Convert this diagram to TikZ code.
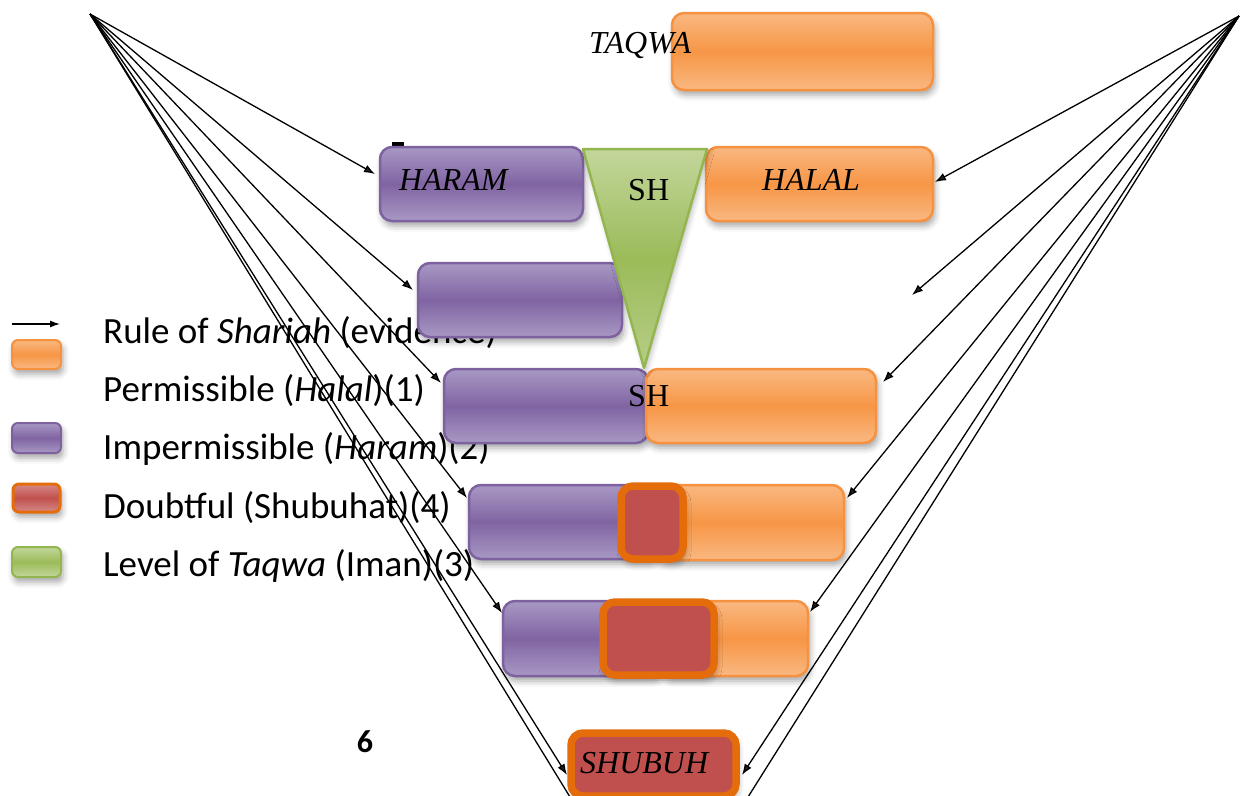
\documentclass[tikz,border=0pt]{standalone}
\usepackage{fontspec}
\setmainfont{Liberation Serif}
\newfontfamily\legendfont{Carlito}
\usetikzlibrary{arrows.meta,shadows.blur}

\definecolor{orMid}{HTML}{F79646}
\definecolor{orLight}{HTML}{F9B881}
\definecolor{orEdge}{HTML}{F6923F}
\definecolor{puMid}{HTML}{8064A2}
\definecolor{puLight}{HTML}{A898C4}
\definecolor{puEdge}{HTML}{7E62A0}
\definecolor{grMid}{HTML}{9BBB59}
\definecolor{grLight}{HTML}{C3D69B}
\definecolor{grEdge}{HTML}{94B650}
\definecolor{rdFill}{HTML}{C0504D}
\definecolor{rdLight}{HTML}{D58A88}
\definecolor{rdEdge}{HTML}{E46C0A}

\tikzset{
  panel/.style={rounded corners=12pt, line width=2.5pt, inner sep=0pt, outer sep=0pt,
    anchor=north west,
    blur shadow={shadow xshift=2pt, shadow yshift=-5pt, shadow blur radius=6pt, shadow opacity=35}},
  obox/.style={panel, draw=orEdge, top color=orLight, bottom color=orLight, middle color=orMid},
  pbox/.style={panel, draw=puEdge, top color=puLight, bottom color=puLight, middle color=puMid},
  rbox/.style={panel, draw=rdEdge, line width=7.5pt, fill=rdFill},
  swatch/.style={panel, rounded corners=6pt, line width=2pt},
  label/.style={inner sep=0pt, anchor=base west, font=\fontsize{32}{36}\selectfont\itshape},
  shtext/.style={inner sep=0pt, anchor=base west, font=\fontsize{32}{36}\selectfont},
  legtext/.style={inner sep=0pt, anchor=base west, font=\legendfont\fontsize{37}{44}\selectfont},
  rule/.style={line width=1.3pt, -{Latex[length=11pt,width=8pt]}},
  plainrule/.style={line width=1.3pt},
}

\begin{document}
\begin{tikzpicture}[x=1pt,y=-1pt]
\useasboundingbox (0,0) rectangle (1241,795);

% ---- legend ----
\coordinate (legs) at (12,324);
\coordinate (lege) at (60,324);
\draw[rule, -{Latex[length=10pt,width=7pt]}] (legs) -- (lege);
\node[swatch, draw=orEdge, top color=orLight, bottom color=orLight, middle color=orMid,
      minimum width=49pt, minimum height=29pt] (lgor) at (12,340) {};
\node[swatch, draw=puEdge, top color=puLight, bottom color=puLight, middle color=puMid,
      minimum width=49pt, minimum height=30pt] (lgpu) at (12,423) {};
\node[swatch, draw=rdEdge, line width=3pt, top color=rdLight, bottom color=rdLight, middle color=rdFill,
      minimum width=47pt, minimum height=28pt] (lgrd) at (13,484) {};
\node[swatch, draw=grEdge, top color=grLight, bottom color=grLight, middle color=grMid,
      minimum width=49pt, minimum height=30pt] (lggr) at (12,547) {};

\node[legtext] (t1) at (103,343) {Rule of \textit{Shariah} (evidence)};
\node[legtext] (t2) at (103,401) {Permissible (\textit{Halal})(1)};
\node[legtext] (t3) at (103,459) {Impermissible (\textit{Haram})(2)};
\node[legtext] (t4) at (103,518) {Doubtful (Shubuhat)(4)};
\node[legtext] (t5) at (103,576) {Level of \textit{Taqwa} (Iman)(3)};

\node[font=\legendfont\bfseries\fontsize{32}{36}\selectfont, inner sep=0pt] (pagenum) at (365,742) {6};

% small mark above the HARAM box
\fill (392,142) rectangle (404,145.5);
\fill (392,142) rectangle (394.5,149);

% ---- boxes ----
\node[obox, minimum width=261pt, minimum height=77pt] (taqwa) at (672,13) {};
\node[pbox, minimum width=203pt, minimum height=74pt] (haram) at (380,147) {};
\node[obox, minimum width=227pt, minimum height=74pt] (halal) at (706,147) {};
\node[pbox, minimum width=204pt, minimum height=74pt] (p3) at (418,263) {};
\node[pbox, minimum width=204pt, minimum height=74pt] (p4) at (444,369) {};
\node[obox, minimum width=230pt, minimum height=74pt] (o4) at (646,369) {};
\node[pbox, minimum width=190pt, minimum height=74pt] (p5) at (469,485) {};
\node[obox, minimum width=189pt, minimum height=75pt] (o5) at (655,485) {};
\node[rbox, minimum width=62pt, minimum height=73pt] (r5) at (621,486) {};
\node[pbox, minimum width=160pt, minimum height=75pt] (p6) at (503,601) {};
\node[obox, minimum width=148pt, minimum height=75pt] (o6) at (660,601) {};
\node[rbox, minimum width=111pt, minimum height=73pt] (r6) at (603,602) {};
\node[rbox, minimum width=165pt, minimum height=63pt] (shubuh) at (571,733) {};

% ---- level of taqwa ----
\coordinate (trl) at (583,149);
\coordinate (trr) at (707,149);
\coordinate (trb) at (644,368);
\draw[draw=grEdge, line width=2.5pt, line join=round,
      top color=grLight, bottom color=grLight!70!grMid, middle color=grMid,
      blur shadow={shadow xshift=2pt, shadow yshift=-4pt, shadow blur radius=5pt, shadow opacity=25}]
  (trl) -- (trr) -- (trb) -- cycle;

% ---- labels ----
\node[label] (ltaqwa) at (589,53) {TAQWA};
\node[label] (lharam) at (399,190) {HARAM};
\node[label] (lhalal) at (762,190) {HALAL};
\node[shtext] (sh1) at (628,200) {SH};
\node[shtext] (sh2) at (628,406) {SH};
\node[label] (lshubuh) at (580,773) {SHUBUH};

% ---- rules of shariah ----
\coordinate (lapex) at (90,14);
\coordinate (rapex) at (1239,16);
\coordinate (lout) at (570,797);
\coordinate (rout) at (748,797);
\coordinate (rfree) at (912,295);

\draw[rule] (lapex) -- ([shift={(-5,-10)}]haram.west);
\draw[rule] (lapex) -- ([shift={(-5,-10)}]p3.west);
\draw[rule] (lapex) -- ([shift={(-3,14)}]p4.north west);
\draw[rule] (lapex) -- ([shift={(-2,13)}]p5.north west);
\draw[rule] (lapex) -- ([shift={(-1,12)}]p6.north west);
\draw[rule] (lapex) -- ([shift={(-4,10.5)}]shubuh.west);
\draw[plainrule] (lapex) -- (lout);

\draw[rule] (rapex) -- ([shift={(2,-2)}]halal.east);
\draw[rule] (rapex) -- (rfree);
\draw[rule] (rapex) -- ([shift={(7,13)}]o4.north east);
\draw[rule] (rapex) -- ([shift={(3,13)}]o5.north east);
\draw[rule] (rapex) -- ([shift={(2,11)}]o6.north east);
\draw[rule] (rapex) -- ([shift={(6,10.5)}]shubuh.east);
\draw[plainrule] (rapex) -- (rout);
\end{tikzpicture}
\end{document}
